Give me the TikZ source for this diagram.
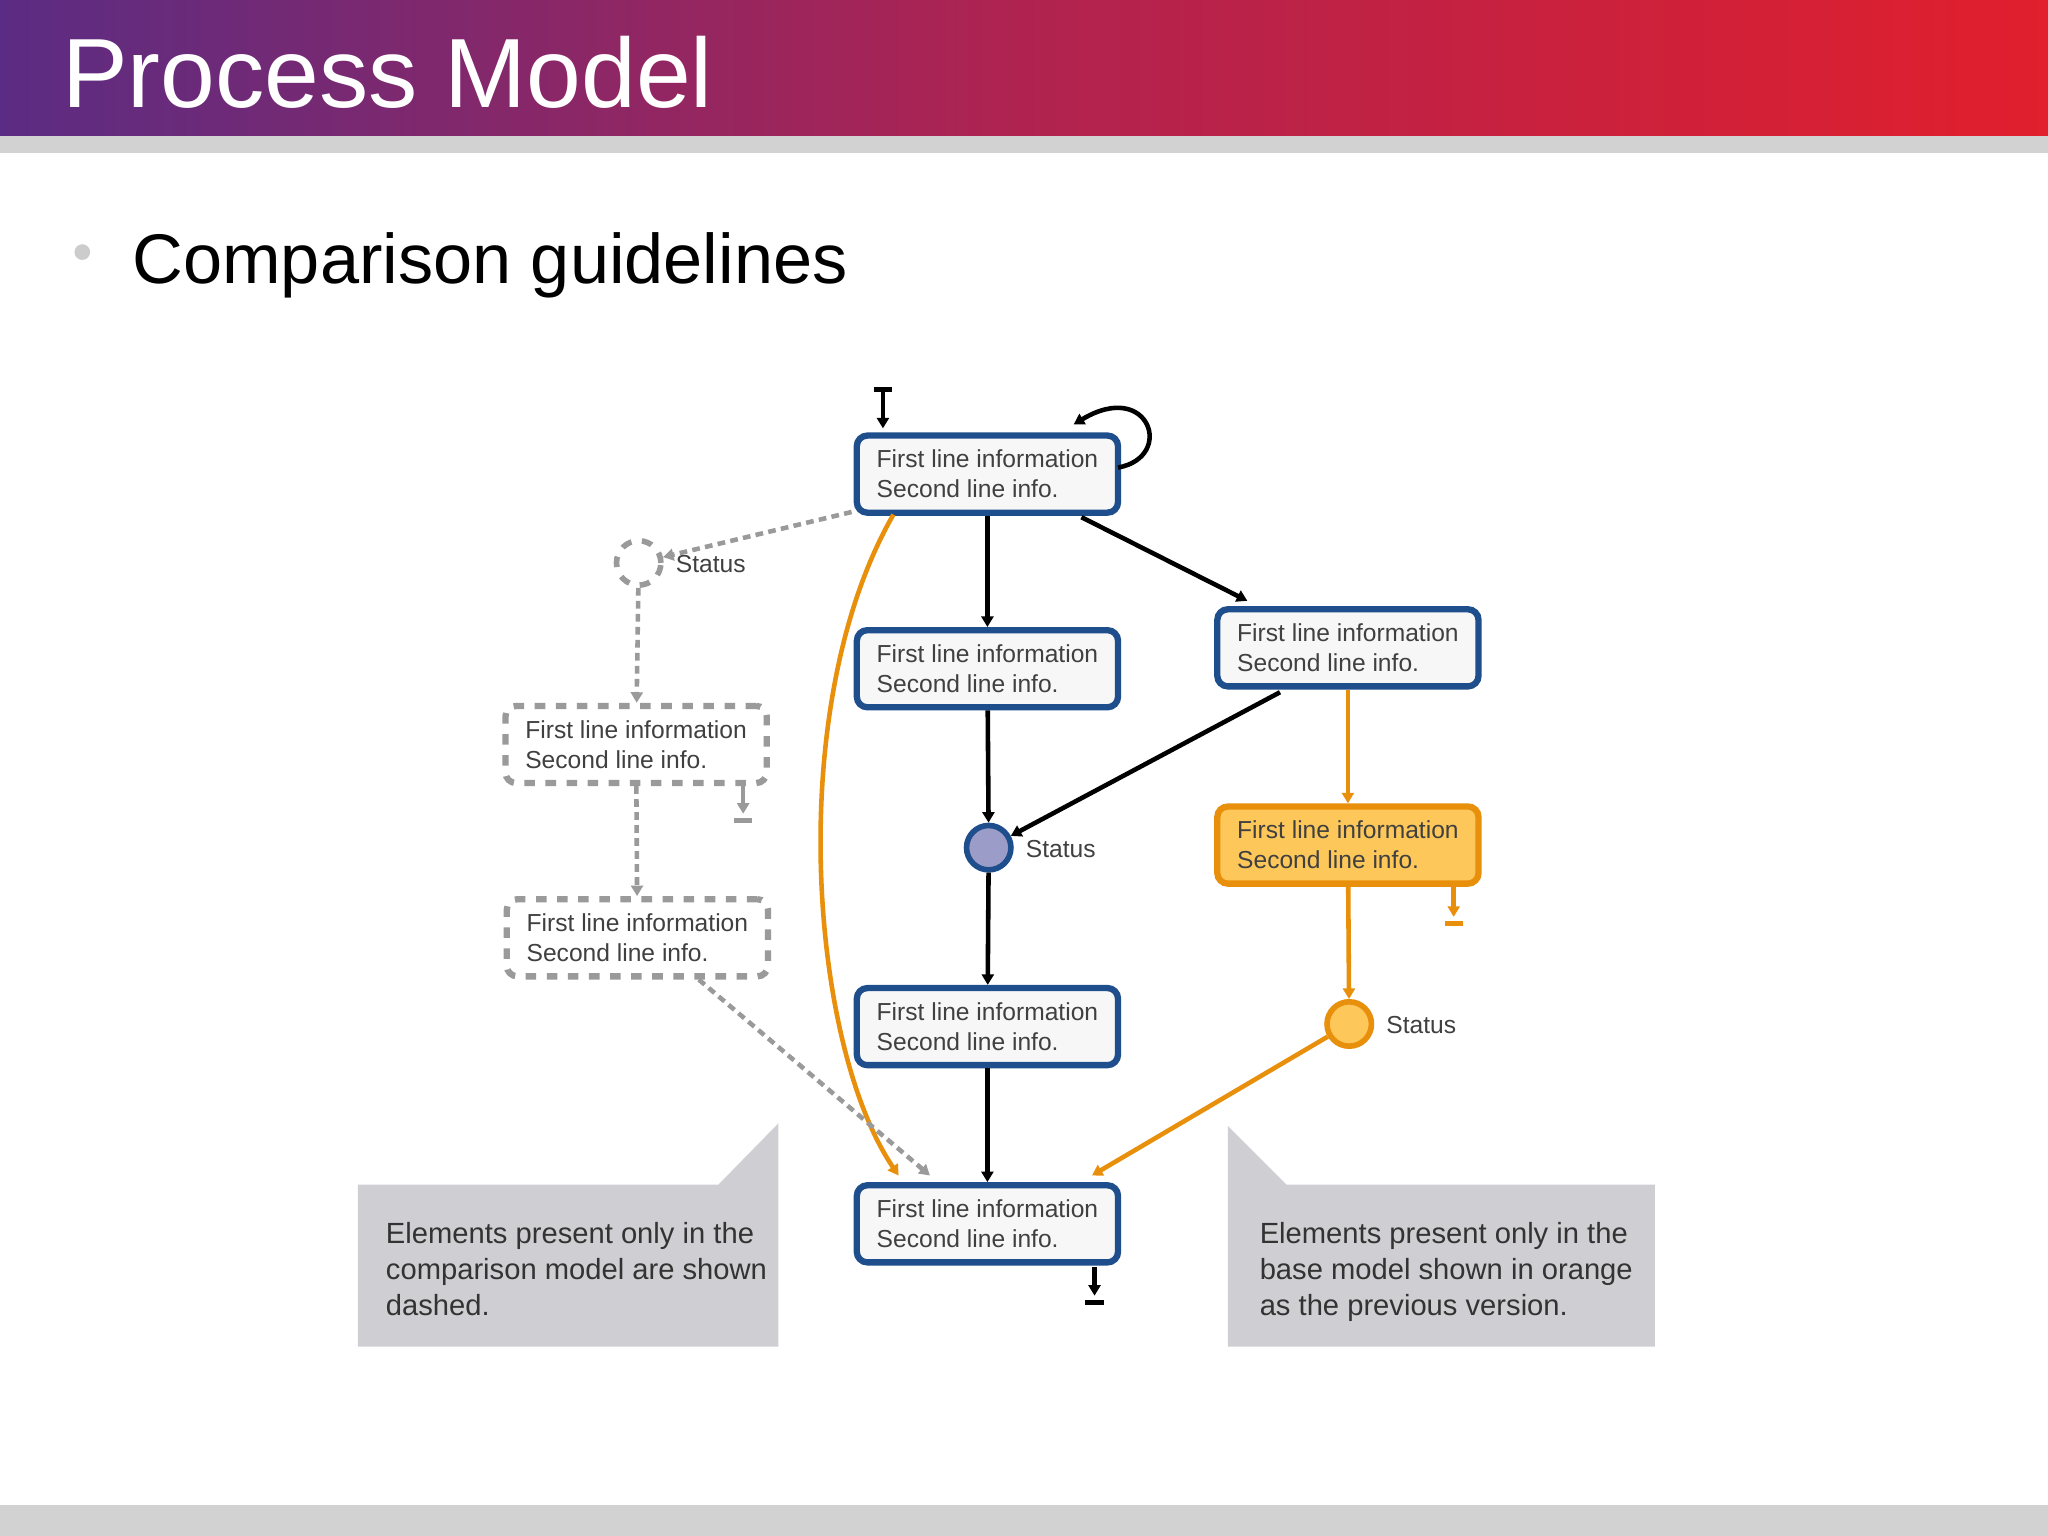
\documentclass[tikz,border=0pt]{standalone}
\usepackage{fontspec}
\setmainfont{Liberation Sans}
\usetikzlibrary{arrows.meta,shadings}
\definecolor{bblue}{HTML}{1F4E8C}
\definecolor{ora}{HTML}{E8900C}
\definecolor{orafill}{HTML}{FDC75A}
\definecolor{dgray}{HTML}{9A9A9A}
\definecolor{callg}{HTML}{CFCFD3}
\definecolor{hpurple}{HTML}{5B2C83}
\definecolor{hred}{HTML}{E11F2D}
\definecolor{hmid}{HTML}{B02350}
\tikzset{
 box/.style={draw=bblue,line width=1.8pt,rounded corners=3pt,fill=gray!6,minimum width=2.612cm,minimum height=0.771cm,inner sep=0,align=left,font=\fontsize{7}{8.5}\selectfont,text=black!75},
 obox/.style={box,draw=ora,fill=orafill},
 dbox/.style={box,draw=dgray,dashed,fill=white},
 st/.style={circle,minimum size=0.444cm,inner sep=0,line width=1.6pt},
 lab/.style={font=\fontsize{7}{8.5}\selectfont,text=black!75,anchor=west},
 ar/.style={line width=1.3pt,-{Triangle[length=3pt,width=3.4pt]}},
 oar/.style={ar,draw=ora,ora},
 dar/.style={ar,draw=dgray,dgray,dash pattern=on 2.2pt off 1.5pt},
}
\begin{document}
\begin{tikzpicture}[x=0.013061cm,y=-0.013061cm]
\useasboundingbox (0,0) rectangle (1568,1176);
\shade[left color=hpurple,right color=hred,middle color=hmid] (0,0) rectangle (1568,104);
\fill[gray!35] (0,104) rectangle (1568,117);
\fill[gray!35] (0,1152) rectangle (1568,1176);
\node[anchor=base west,text=white,font=\fontsize{28}{30}\selectfont] (title) at (38,82) {Process Model};
\fill[gray!40] (63,193) circle (6);
\node[anchor=base west,font=\fontsize{20}{22}\selectfont] (sub) at (92,217) {Comparison guidelines};
% callouts
\fill[callg] (274,907) -- (550,907) -- (596,860) -- (596,1031) -- (274,1031) -- cycle;
\node[anchor=north west,align=left,font=\fontsize{8.3}{10.3}\selectfont,text=black!80] (cl) at (286,926) {Elements present only in the\\comparison model are shown\\dashed.};
\fill[callg] (940,862) -- (985,907) -- (1267,907) -- (1267,1031) -- (940,1031) -- cycle;
\node[anchor=north west,align=left,font=\fontsize{8.3}{10.3}\selectfont,text=black!80] (cr) at (955,926) {Elements present only in the\\base model shown in orange\\as the previous version.};
% nodes
\node[box] (A) at (756,363) {First line information\\Second line info.};
\node[box] (B) at (756,512) {First line information\\Second line info.};
\node[box] (C) at (1032,496) {First line information\\Second line info.};
\node[obox] (D) at (1032,647) {First line information\\Second line info.};
\node[box] (E) at (756,786) {First line information\\Second line info.};
\node[box] (F) at (756,937) {First line information\\Second line info.};
\node[dbox] (G) at (487,570) {First line information\\Second line info.};
\node[dbox] (H) at (488,718) {First line information\\Second line info.};
\node[st,draw=dgray,dashed,fill=white] (S1) at (489,431) {};
\node[lab] (S1l) at (508,432) {Status};
\node[st,draw=bblue,fill=blue!30!gray!60] (S2) at (757,649) {};
\node[lab] (S2l) at (776,650) {Status};
\node[st,draw=ora,fill=orafill] (S3) at (1033,784) {};
\node[lab] (S3l) at (1052,785) {Status};
% start / end markers
\coordinate (s0) at (676,298); \coordinate (s1) at (676,328);
\draw[ar] (s0) -- (s1); \draw[line width=1.5pt] (669,298) -- (683,298);
\coordinate (f0) at (838,970); \coordinate (f1) at (838,992);
\draw[ar] (f0) -- (f1); \draw[line width=1.5pt] (831,997) -- (845,997);
\coordinate (g0) at (569,601); \coordinate (g1) at (569,623);
\draw[ar,draw=dgray,dgray] (g0) -- (g1); \draw[line width=1.5pt,dgray] (562,628) -- (576,628);
\coordinate (d0) at (1113,679); \coordinate (d1) at (1113,702);
\draw[oar] (d0) -- (d1); \draw[line width=1.5pt,ora] (1106,707) -- (1120,707);
% edges
\coordinate (la) at (856,358); \coordinate (lb) at (822,325);
\draw[ar] (la) .. controls (900,350) and (880,290) .. (lb);
\draw[ar] (A) -- (B);
\coordinate (ac0) at (828,396); \coordinate (ac1) at (955,460);
\draw[ar] (ac0) -- (ac1);
\coordinate (c0) at (980,530);
\draw[ar] (c0) -- (S2);
\draw[ar] (B) -- (S2);
\draw[ar] (S2) -- (E);
\draw[ar] (E) -- (F);
\coordinate (o0) at (684,394); \coordinate (o1) at (688,900);
\draw[oar] (o0) .. controls (600,540) and (620,800) .. (o1);
\draw[oar] (C) -- (D);
\draw[oar] (D) -- (S3);
\coordinate (o2) at (836,900);
\draw[oar] (S3) -- (o2);
\coordinate (d2) at (652,392);
\draw[dar] (d2) -- (S1);
\draw[dar] (S1) -- (G);
\draw[dar] (G) -- (H);
\coordinate (h0) at (535,750); \coordinate (h1) at (712,900);
\draw[dar] (h0) -- (h1);
\end{tikzpicture}
\end{document}
